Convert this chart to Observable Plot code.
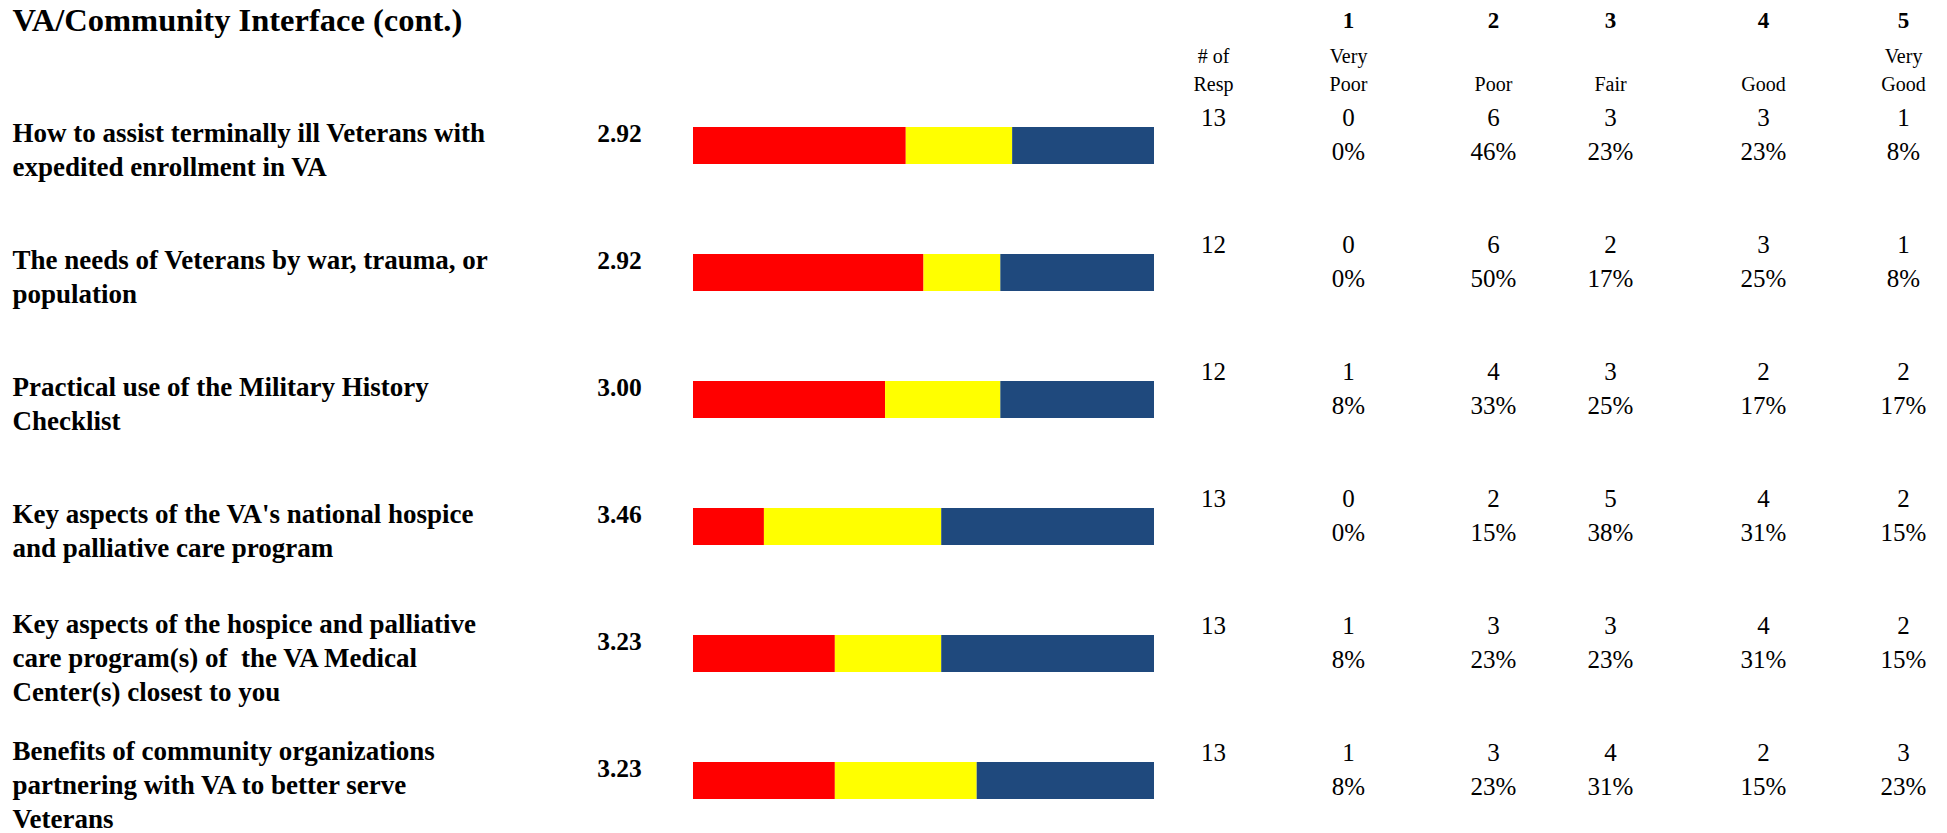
<!DOCTYPE html>
<html>
<head>
<meta charset="utf-8">
<script src="https://cdn.jsdelivr.net/npm/d3@7"></script>
<script src="https://cdn.jsdelivr.net/npm/@observablehq/plot@0.6"></script>
<style>
  html, body { margin: 0; padding: 0; background: #ffffff; }
  #chart { width: 1947px; height: 833px; overflow: hidden; }
</style>
</head>
<body>
<div id="chart"></div>
<script>
// ---------- data ----------
const title = "VA/Community Interface (cont.)";
const questions = [
  "How to assist terminally ill Veterans with\nexpedited enrollment in VA",
  "The needs of Veterans by war, trauma, or\npopulation",
  "Practical use of the Military History\nChecklist",
  "Key aspects of the VA's national hospice\nand palliative care program",
  "Key aspects of the hospice and palliative\ncare program(s) of  the VA Medical\nCenter(s) closest to you",
  "Benefits of community organizations\npartnering with VA to better serve\nVeterans"
];
const means       = [2.92, 2.92, 3.00, 3.46, 3.23, 3.23];
const respondents = [13, 12, 12, 13, 13, 13];
const veryPoor    = [0, 0, 1, 0, 1, 1];
const poor        = [6, 6, 4, 2, 3, 3];
const fair        = [3, 2, 3, 5, 3, 4];
const good        = [3, 3, 2, 4, 4, 2];
const veryGood    = [1, 1, 2, 2, 2, 3];

const ratingNumbers = ["1", "2", "3", "4", "5"];
const ratingLabels  = ["Very\nPoor", "Poor", "Fair", "Good", "Very\nGood"];
const respHeader    = "# of\nResp";
const segments      = ["Poor / Very Poor", "Fair", "Good / Very Good"];
const segmentColors = ["#ff0000", "#ffff00", "#1f497d"];

// ---------- layout (column scale: label, mean, bar 0..1, resp, ratings 1..5) ----------
const COL = {label: -2, mean: -1, barStart: 0, barEnd: 1, resp: 2, r1: 3};
const colDomain = [-2, -1, 0, 1, 2, 3, 4, 5, 6, 7];
const colRange  = [12, 619, 693, 1154, 1213, 1348, 1493, 1610, 1763, 1903];

const FONT = "'Liberation Serif', 'Times New Roman', Times, serif";
const fmtMean = d3.format(".2f");

// ---------- derived tables ----------
const rows = questions.map((q, i) => ({
  q, mean: means[i], resp: respondents[i],
  counts: [veryPoor[i], poor[i], fair[i], good[i], veryGood[i]]
}));

const barData = rows.flatMap(r => {
  const c = r.counts;
  const vals = [c[0] + c[1], c[2], c[3] + c[4]];
  return segments.map((s, k) => ({q: r.q, seg: s, share: vals[k] / r.resp}));
});

const cells = rows.flatMap(r => r.counts.map((count, j) => ({
  q: r.q, col: COL.r1 + j, count,
  pct: Math.round(100 * count / r.resp) + "%"
})));

const headerLabels = [respHeader, ...ratingLabels];

const chart = Plot.plot({
  width: 1947,
  height: 833,
  marginTop: 0, marginBottom: 0, marginLeft: 0, marginRight: 0,
  style: {background: "#ffffff", fontFamily: FONT, color: "#000000"},
  x: {type: "linear", domain: colDomain, range: colRange, axis: null},
  y: {type: "band", domain: questions, range: [80.8, 845.2], paddingInner: 0.71, paddingOuter: 0.355, axis: null},
  color: {domain: segments, range: segmentColors},
  marks: [
    // title
    Plot.text([title], {
      x: () => COL.label, frameAnchor: "top", dy: 30, lineAnchor: "bottom",
      textAnchor: "start", fontSize: 32.5, fontWeight: "bold"
    }),
    // column headers
    Plot.text(ratingNumbers, {
      x: (d, i) => COL.r1 + i, frameAnchor: "top", dy: 27, lineAnchor: "bottom",
      fontSize: 23, fontWeight: "bold"
    }),
    Plot.text(headerLabels, {
      x: (d, i) => COL.resp + i, frameAnchor: "top", dy: 90, lineAnchor: "bottom",
      lineHeight: 1.4, fontSize: 20
    }),
    // stacked bars
    Plot.barX(barData, Plot.stackX({x: "share", y: "q", fill: "seg", z: "seg"})),
    // question labels
    Plot.text(rows, {
      x: () => COL.label, y: "q", text: "q", textAnchor: "start",
      lineAnchor: "middle", lineHeight: 1.25, dy: 2, fontSize: 27, fontWeight: "bold"
    }),
    // mean scores
    Plot.text(rows, {
      x: () => COL.mean, y: "q", text: d => fmtMean(d.mean),
      lineAnchor: "bottom", dy: -4.5, fontSize: 25.5, fontWeight: "bold"
    }),
    // number of respondents
    Plot.text(rows, {
      x: () => COL.resp, y: "q", text: d => String(d.resp),
      lineAnchor: "bottom", dy: -20.5, fontSize: 25
    }),
    // counts
    Plot.text(cells, {
      x: "col", y: "q", text: d => String(d.count),
      lineAnchor: "bottom", dy: -20.5, fontSize: 25
    }),
    // percentages
    Plot.text(cells, {
      x: "col", y: "q", text: "pct",
      lineAnchor: "bottom", dy: 13.5, fontSize: 25
    })
  ]
});

document.getElementById("chart").appendChild(chart);
</script>
</body>
</html>
